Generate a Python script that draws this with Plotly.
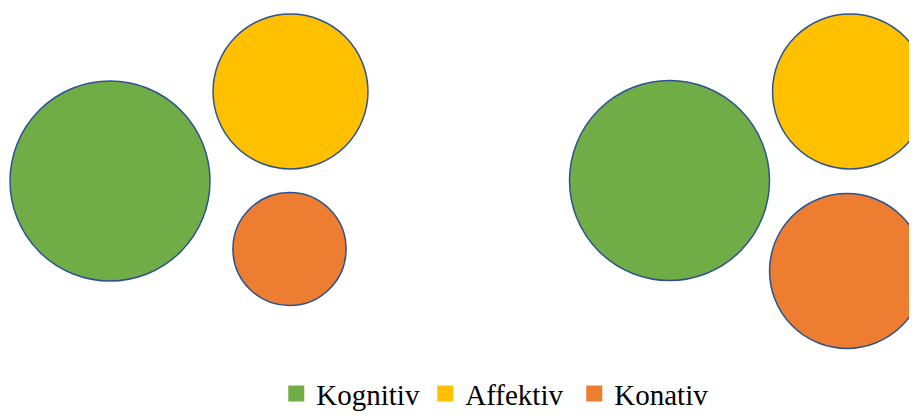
import plotly.graph_objects as go

# Data
categories = ["Kognitiv", "Affektiv", "Konativ"]
colors = ["#70AD47", "#FFC000", "#ED7D31"]

# Two groups of bubbles (positions in chart units, sizes = values)
group1_x = [11.0, 29.05, 28.95]
group1_y = [18.1, 9.15, 24.9]
group1_v = [50, 30, 16]

group2_x = [66.95, 85.0, 84.7]
group2_y = [18.05, 9.15, 27.1]
group2_v = [50, 30, 30]

sizeref = 2 * 50 / (200 ** 2)

fig = go.Figure()
for i, cat in enumerate(categories):
    fig.add_trace(go.Scatter(
        x=[group1_x[i], group2_x[i]],
        y=[group1_y[i], group2_y[i]],
        mode="markers",
        name=cat,
        showlegend=False,
        marker=dict(size=[group1_v[i], group2_v[i]], sizemode="area", sizeref=sizeref,
                    color=colors[i], opacity=1,
                    line=dict(color="#2F528F", width=1.5)),
        hoverinfo="name",
    ))
# legend entries (square swatches)
for i, cat in enumerate(categories):
    fig.add_trace(go.Scatter(
        x=[None], y=[None], mode="markers", name=cat,
        marker=dict(symbol="square", size=16, color=colors[i]),
    ))

W, H, OFF = 909, 403, 8
fig.update_layout(
    width=W, height=H,
    margin=dict(l=0, r=0, t=0, b=0, autoexpand=False),
    paper_bgcolor="white", plot_bgcolor="white",
    xaxis=dict(range=[OFF / 10, (OFF + W) / 10], visible=False, fixedrange=True),
    yaxis=dict(range=[(OFF + H) / 10, OFF / 10], visible=False, fixedrange=True),
    showlegend=True,
    legend=dict(orientation="h", x=0.541, xanchor="center", y=-0.02, yanchor="bottom",
                font=dict(family="Times New Roman, Liberation Serif, Tinos, DejaVu Serif, serif",
                          size=29, color="#000000"),
                itemwidth=30, itemsizing="trace", bgcolor="rgba(0,0,0,0)",
                entrywidth=104, tracegroupgap=0),
)

fig.write_html("out.html", default_width=f"{W}px", default_height=f"{H}px")
